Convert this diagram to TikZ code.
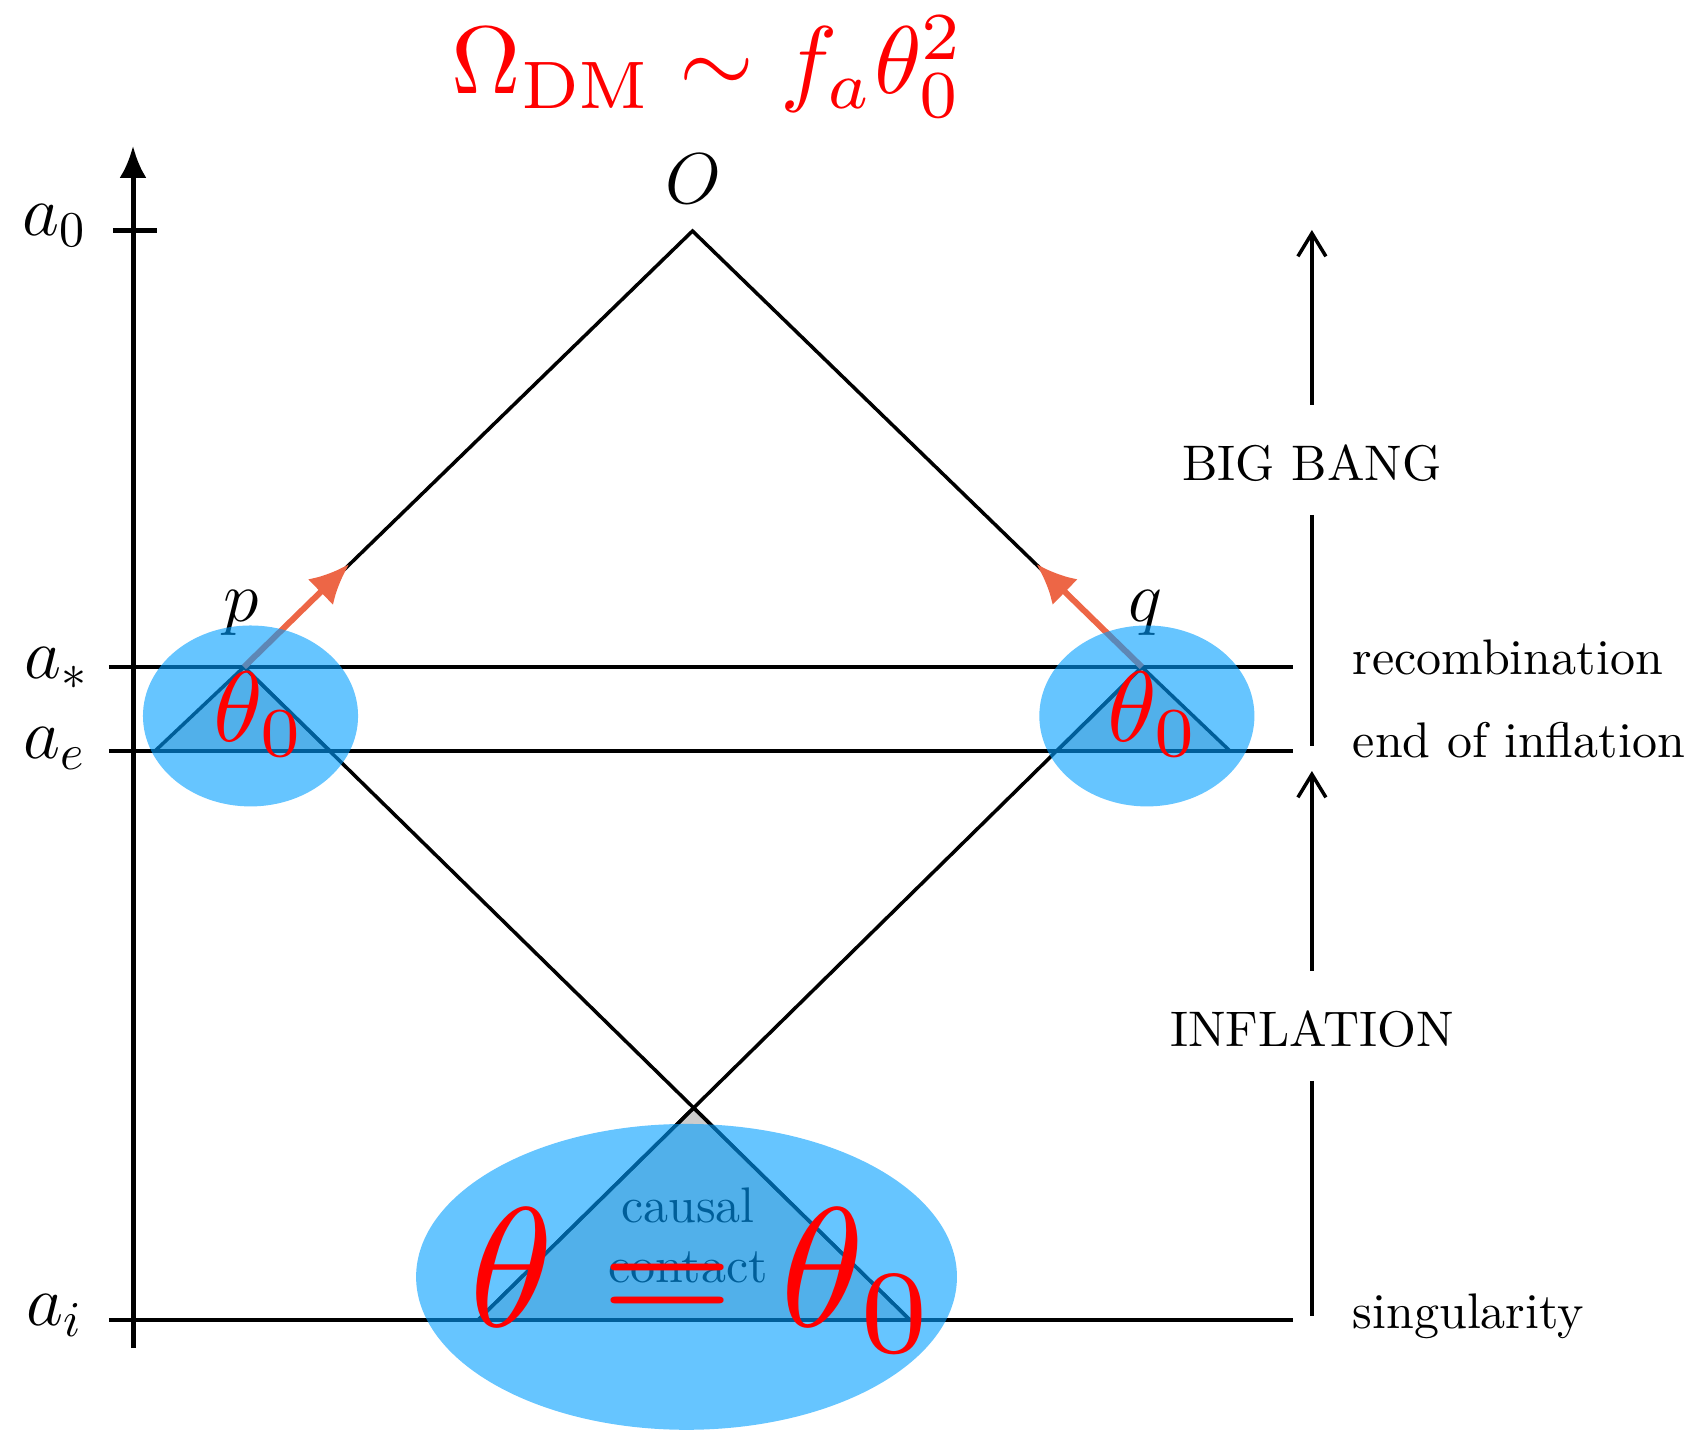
\RequirePackage{fix-cm}
\documentclass[tikz,border=0pt]{standalone}
\usepackage{graphicx}
\usetikzlibrary{arrows.meta}
\definecolor{rd}{RGB}{255,0,0}
\definecolor{sk}{RGB}{0,158,255}
\definecolor{sh}{gray}{0.8}
\definecolor{og}{RGB}{237,102,70}
\tikzset{
  axis/.style={-{Latex[length=6.4pt,width=5.4pt]},line width=1pt},
  epoch/.style={line width=0.65pt},
  cone/.style={line width=0.7pt},
  cell/.style={cone,fill=sh},
  blob/.style={fill=sk,fill opacity=0.6},
  ray/.style={-{Latex[length=8pt,width=7.2pt]},line width=1.2pt,draw=og},
  flow/.style={-{Straight Barb[length=4.6pt,width=5.6pt]},line width=0.7pt},
  bar/.style={line width=0.7pt},
  lev/.style={anchor=base east,inner sep=0pt,font=\Large},
  pt/.style={anchor=base,inner sep=0pt,font=\Large},
  era/.style={anchor=base west,inner sep=0pt},
  phase/.style={anchor=base,text height=8.4pt,text depth=0pt,inner xsep=2pt,inner ysep=6.6pt},
  big/.style={anchor=base,inner sep=0pt,text=rd}
}

\begin{document}
\begin{tikzpicture}[x=1cm,y=1cm]
\useasboundingbox (0,0) rectangle (11.908,10.073);
% ===================== points of the diagram =====================
\coordinate (O) at (4.868,8.449);
\coordinate (p) at (1.715,5.384);
\coordinate (q) at (8.027,5.384);
\coordinate (pl) at (1.090,4.794);
\coordinate (pr) at (2.320,4.794);
\coordinate (ql) at (7.430,4.794);
\coordinate (qr) at (8.646,4.794);
\coordinate (il) at (3.360,0.794);
\coordinate (ir) at (6.397,0.794);
\coordinate (X) at (intersection of p--ir and q--il);
\coordinate (ptip) at (2.455,6.108);
\coordinate (qtip) at (7.285,6.108);
% ===================== time axis and levels =====================
\coordinate (axbot) at (0.935,0.597);
\coordinate (axtop) at (0.935,9.047);
\draw[axis] (axbot) -- (axtop);
\draw[line width=1pt] (0.794,8.449) -- (1.104,8.449);
\draw[epoch] (0.766,5.384) -- (9.089,5.384);
\draw[epoch] (0.766,4.794) -- (9.089,4.794);
\draw[epoch] (0.766,0.794) -- (9.089,0.794);
\node[lev] (a0) at (0.622,8.414) {$a_0$};
\node[lev] (astar) at (0.632,5.300) {$a_*$};
\node[lev] (ae) at (0.612,4.738) {$a_e$};
\node[lev] (ai) at (0.590,0.752) {$a_i$};
% ===================== light cones =====================
\filldraw[cell] (p) -- (pl) -- (pr) -- cycle;
\filldraw[cell] (q) -- (ql) -- (qr) -- cycle;
\filldraw[cell] (X) -- (il) -- (ir) -- cycle;
\draw[cone] (p) -- (O) -- (q);
\draw[cone] (p) -- (ir);
\draw[cone] (q) -- (il);
\node[pt] (olab) at (4.871,8.639) {$O$};
\node[pt] (plab) at (1.694,5.701) {$p$};
\node[pt] (qlab) at (8.055,5.701) {$q$};
\draw[ray] (p) -- (ptip);
\draw[ray] (q) -- (qtip);
\node[anchor=base,inner sep=0pt] (causal) at (4.836,1.476) {causal};
\node[anchor=base,inner sep=0pt] (contact) at (4.836,1.054) {contact};
% ===================== patches in causal contact =====================
\fill[blob] (1.761,5.040) ellipse [x radius=0.756,y radius=0.636];
\fill[blob] (8.062,5.040) ellipse [x radius=0.756,y radius=0.636];
\fill[blob] (4.826,1.097) ellipse [x radius=1.901,y radius=1.075];
\node[big] (thp) at (1.826,4.857) {\scalebox{2}{$\theta_0$}};
\node[big] (thq) at (8.111,4.857) {\scalebox{2}{$\theta_0$}};
\node[big] (eqn) at (4.944,0.745) {\scalebox{3.4}{$\theta=\theta_0$}};
\node[big] (omega) at (4.979,9.412) {\scalebox{1.92}{$\Omega_{\mathrm{DM}}\sim f_a\theta_0^2$}};
% ===================== eras on the right =====================
\node[era] (rec) at (9.503,5.328) {recombination};
\node[era] (endinf) at (9.503,4.745) {end of inflation};
\node[era] (sing) at (9.503,0.731) {singularity};
\node[phase] (bb) at (9.222,6.692) {BIG BANG};
\node[phase] (infl) at (9.222,2.713) {INFLATION};
\coordinate (bbtop) at (9.222,8.456);
\coordinate (bbbot) at (9.222,4.829);
\coordinate (inftop) at (9.222,4.653);
\coordinate (infbot) at (9.222,0.822);
\draw[flow] (bb.north) -- (bbtop);
\draw[bar] (bb.south) -- (bbbot);
\draw[flow] (infl.north) -- (inftop);
\draw[bar] (infl.south) -- (infbot);
\end{tikzpicture}
\end{document}
